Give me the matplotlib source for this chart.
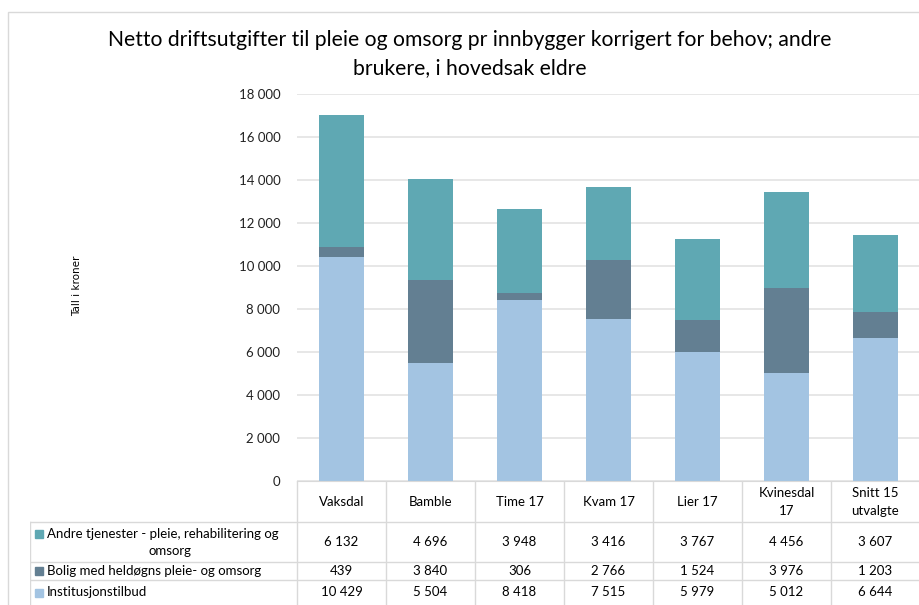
import matplotlib.pyplot as plt
from matplotlib.patches import Rectangle

plt.rcParams['font.family'] = ['Lato', 'DejaVu Sans']

kommuner = ['Vaksdal', 'Bamble', 'Time 17', 'Kvam 17', 'Lier 17', 'Kvinesdal\n17', 'Snitt 15\nutvalgte']
institusjon = [10429, 5504, 8418, 7515, 5979, 5012, 6644]
bolig = [439, 3840, 306, 2766, 1524, 3976, 1203]
andre = [6132, 4696, 3948, 3416, 3767, 4456, 3607]

serier = ['Andre tjenester - pleie, rehabilitering og\nomsorg',
          'Bolig med heldøgns pleie- og omsorg',
          'Institusjonstilbud']
farger = ['#5FA8B3', '#637F92', '#A3C4E2']
yticks = [0, 2000, 4000, 6000, 8000, 10000, 12000, 14000, 16000, 18000]

W, H = 920, 605
fig = plt.figure(figsize=(W / 100, H / 100), dpi=100)

def px(x0, y0, x1, y1):
    # pixel box (top-left origin) -> figure fraction
    return [x0 / W, 1 - y1 / H, (x1 - x0) / W, (y1 - y0) / H]

# ramme rundt diagrammet
fig.add_artist(Rectangle((8 / W, -0.1), 2, 1 - 12 / H + 0.1, transform=fig.transFigure,
                         fill=False, edgecolor='#D9D9D9', lw=1))

ax = fig.add_axes(px(297, 94, 920, 481))
x = range(len(kommuner))
ax.bar(x, institusjon, width=0.5, color=farger[2])
ax.bar(x, bolig, width=0.5, bottom=institusjon, color=farger[1])
bunn = [a + b for a, b in zip(institusjon, bolig)]
ax.bar(x, andre, width=0.5, bottom=bunn, color=farger[0])

ax.set_xlim(-0.5, 6.5)
ax.set_ylim(0, 18000)
ax.set_yticks(yticks)
ax.set_yticklabels([f'{v:,}'.replace(',', ' ') for v in yticks], fontsize=9.5, color='#222222')
ax.set_xticks([])
ax.tick_params(axis='y', length=0, pad=12)
ax.grid(axis='y', color='#E3E3E3', lw=1.2)
ax.set_axisbelow(True)
for s in ['top', 'right', 'left']:
    ax.spines[s].set_visible(False)
ax.spines['bottom'].set_color('#D9D9D9')

fig.text(77 / W, 1 - 286 / H, 'Tall i kroner', rotation=90, ha='center', va='center',
         fontsize=7.5, family=['DejaVu Sans'])

fig.text(470 / W, 1 - 54 / H,
         'Netto driftsutgifter til pleie og omsorg pr innbygger korrigert for behov; andre\nbrukere, i hovedsak eldre',
         ha='center', va='center', fontsize=15.2, linespacing=1.45)

# datatabell
tab = fig.add_axes(px(30, 481, 920, 605))
tab.set_xlim(-3.5, 6.5)
tab.set_ylim(605, 481)
tab.axis('off')
gc = '#D9D9D9'
rader = [522, 562, 580, 605]
for y in rader[:-1]:
    tab.plot([-3.5, 6.5], [y, y], color=gc, lw=1)
tab.plot([-3.5, -3.5], [522, 605], color=gc, lw=1)
for i in range(8):
    tab.plot([i - 0.5, i - 0.5], [481, 605], color=gc, lw=1)

for i, k in enumerate(kommuner):
    tab.text(i, 502, k, ha='center', va='center', fontsize=9.5, linespacing=1.6)

verdier = [andre, bolig, institusjon]
for r, (navn, vals, farge) in enumerate(zip(serier, verdier, farger)):
    ym = (rader[r] + rader[r + 1]) / 2
    kx = -3.5 + 5 / 89
    tab.add_patch(Rectangle((kx, ym - 4 if r else ym - 12), 8 / 89, 8, color=farge))
    if r == 0:
        l1, l2 = navn.split('\n')
        tab.text(-3.5 + 17 / 89, ym - 8, l1, ha='left', va='center', fontsize=9.5)
        tab.text(-3.5 + 140 / 89, ym + 9, l2, ha='center', va='center', fontsize=9.5)
    else:
        tab.text(-3.5 + 17 / 89, ym, navn, ha='left', va='center', fontsize=9.5)
    for i, v in enumerate(vals):
        tab.text(i, ym, f'{v:,}'.replace(',', ' '), ha='center', va='center', fontsize=9.5)

fig.savefig('out.png', dpi=100)
